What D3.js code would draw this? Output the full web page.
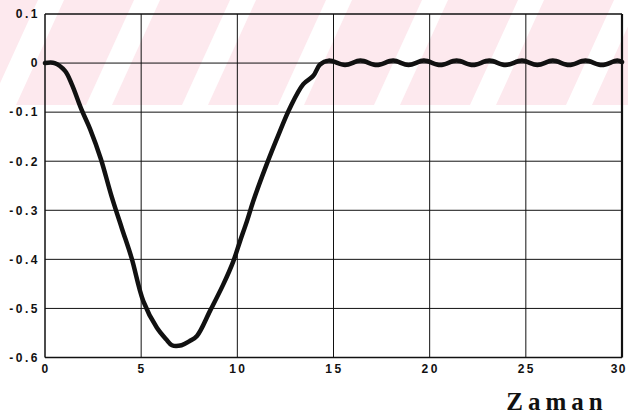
<!DOCTYPE html>
<html>
<head>
<meta charset="utf-8">
<script src="https://cdn.jsdelivr.net/npm/d3@7"></script>
<style>
  body { margin: 0; background: #fff; }
  svg { display: block; }
  .tick-label { font-family: "Liberation Sans", Arial, sans-serif; font-weight: bold; font-size: 12px; letter-spacing: 2.5px; fill: #111; }
  .axis-title { font-family: "Liberation Serif", "Times New Roman", serif; font-weight: bold; font-size: 25px; letter-spacing: 5px; fill: #111; }
</style>
</head>
<body>
<script>
// time (Zaman) and response values
let times = [0, 0.5, 1.04, 1.39, 1.9, 2.35, 2.9, 3.45, 3.99, 4.5, 5.11, 5.81, 6.3, 6.6, 7.1, 7.5, 7.9, 8.58, 9.27, 9.79, 10.14, 10.5, 10.83, 11.53, 12.1, 12.74, 13.43, 13.95, 14.3, 14.75,
  15.6, 16.4, 17.25, 18.1, 18.9, 19.7, 20.55, 21.4, 22.25, 23.1, 23.95, 24.8, 25.6, 26.4, 27.25, 28.1, 28.95, 29.75, 30]
let values = [0, 0, -0.016, -0.043, -0.095, -0.135, -0.195, -0.27, -0.336, -0.397, -0.485, -0.539, -0.563, -0.575, -0.575, -0.567, -0.556, -0.505, -0.451, -0.404, -0.363, -0.322, -0.281, -0.206, -0.15, -0.091, -0.043, -0.026, -0.003, 0.005,
  -0.004, 0.005, -0.004, 0.005, -0.004, 0.005, -0.004, 0.005, -0.004, 0.005, -0.004, 0.005, -0.004, 0.005, -0.004, 0.005, -0.004, 0.005, 0.002]

let xTicks = [0, 5, 10, 15, 20, 25, 30]
let yTicks = [0.1, 0, -0.1, -0.2, -0.3, -0.4, -0.5, -0.6]
let xTitle = "Zaman"

let width = 628
let height = 415
let mLeft = 45, mRight = 622, mTop = 14, mBottom = 357.5

let x = d3.scaleLinear().domain([0, 30]).range([mLeft, mRight])
let y = d3.scaleLinear().domain([-0.6, 0.1]).range([mBottom, mTop])

let svg = d3.select('body').append('svg')
    .attr('width', width)
    .attr('height', height)

// faint pink watermark band with white diagonal stripes
let band = svg.append('g')
band.append('rect')
    .attr('x', 0).attr('y', 0)
    .attr('width', width).attr('height', 105)
    .attr('fill', '#fde9ee')

for (let s = 38; s < width + 100; s += 96) {
    band.append('polygon')
        .attr('points', [[s, 0], [s + 26, 0], [s - 22, 105], [s - 48, 105]].join(' '))
        .attr('fill', '#fff')
}

// grid
let grid = svg.append('g')
    .attr('stroke', '#111')
    .attr('stroke-width', 1)

grid.selectAll('.vgrid')
    .data(xTicks.slice(1, -1))
    .enter().append('line')
    .attr('x1', d => x(d)).attr('x2', d => x(d))
    .attr('y1', mTop).attr('y2', mBottom)

grid.selectAll('.hgrid')
    .data(yTicks.slice(1, -1))
    .enter().append('line')
    .attr('x1', mLeft).attr('x2', mRight)
    .attr('y1', d => y(d)).attr('y2', d => y(d))

// frame
svg.append('line').attr('x1', mLeft).attr('x2', mRight).attr('y1', mTop).attr('y2', mTop)
    .attr('stroke', '#111').attr('stroke-width', 1.3)
svg.append('line').attr('x1', mLeft).attr('x2', mRight).attr('y1', mBottom).attr('y2', mBottom)
    .attr('stroke', '#111').attr('stroke-width', 1.5)
svg.append('line').attr('x1', mLeft).attr('x2', mLeft).attr('y1', mTop).attr('y2', mBottom)
    .attr('stroke', '#111').attr('stroke-width', 1.5)
svg.append('line').attr('x1', mRight).attr('x2', mRight).attr('y1', mTop).attr('y2', mBottom)
    .attr('stroke', '#111').attr('stroke-width', 2.2)

// tick labels
svg.selectAll('.ylab')
    .data(yTicks)
    .enter().append('text')
    .attr('class', 'tick-label')
    .attr('x', 40)
    .attr('y', d => y(d))
    .attr('dy', '0.36em')
    .attr('text-anchor', 'end')
    .text(d => d === 0 ? '0' : d3.format('.1f')(d).replace('\u2212', '-'))

let lastTick = xTicks[xTicks.length - 1]
svg.selectAll('.xlab')
    .data(xTicks)
    .enter().append('text')
    .attr('class', 'tick-label')
    .attr('x', d => d === lastTick ? width - 1 : x(d) + 1)
    .attr('y', 373)
    .attr('text-anchor', d => d === lastTick ? 'end' : 'middle')
    .style('letter-spacing', d => d === lastTick ? '1.5px' : null)
    .text(d => d)

svg.append('text')
    .attr('class', 'axis-title')
    .attr('x', 557)
    .attr('y', 410)
    .attr('text-anchor', 'middle')
    .text(xTitle)

// response curve
let line = d3.line()
    .x((d, i) => x(times[i]))
    .y(d => y(d))
    .curve(d3.curveCatmullRom.alpha(0.5))

svg.append('path')
    .datum(values)
    .attr('d', line)
    .attr('fill', 'none')
    .attr('stroke', '#111')
    .attr('stroke-width', 4.5)
    .attr('stroke-linejoin', 'round')
    .attr('stroke-linecap', 'round')
</script>
</body>
</html>
